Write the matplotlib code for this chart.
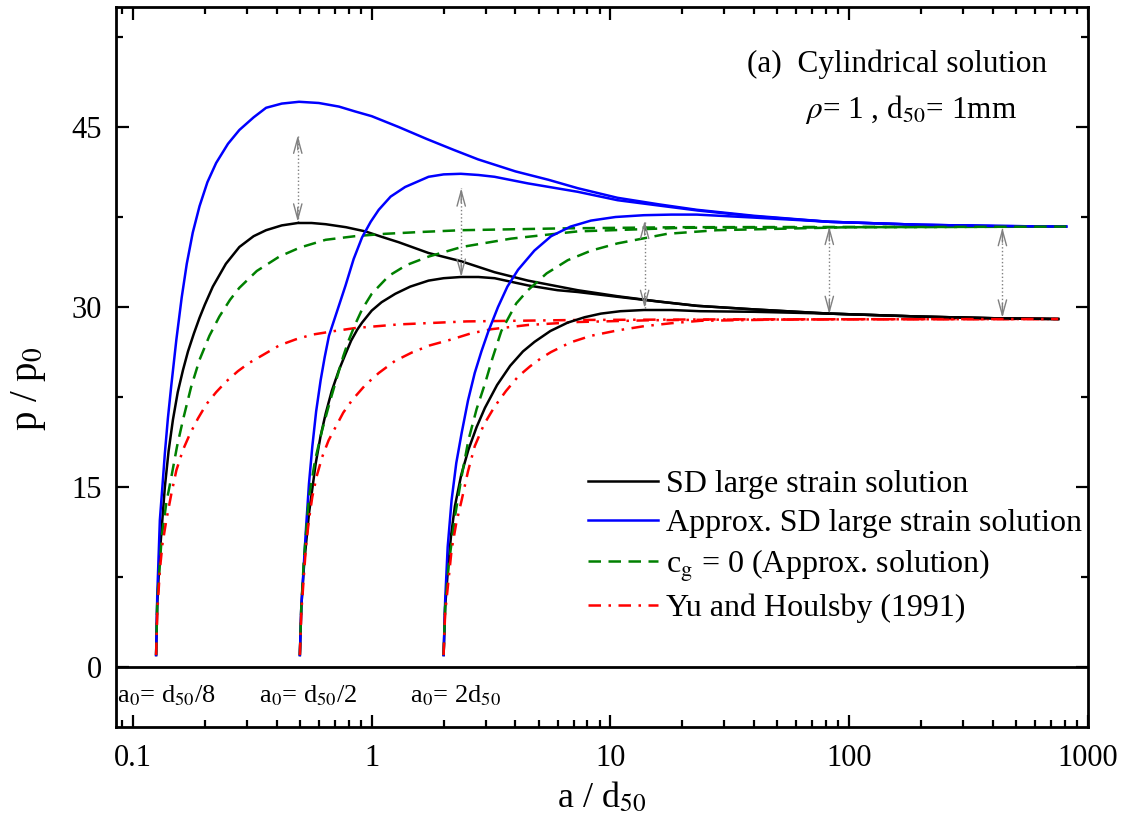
import matplotlib
matplotlib.use('Agg')
import matplotlib.pyplot as plt
from matplotlib.ticker import MultipleLocator, LogLocator, NullFormatter, FixedLocator, FixedFormatter

# a0 = d50/8
sd1_x = [0.125, 0.1264, 0.1296, 0.133, 0.136, 0.141, 0.147, 0.154, 0.162, 0.17, 0.18, 0.19, 0.2, 0.216,
         0.245, 0.279, 0.32, 0.361, 0.42, 0.49, 0.56, 0.641, 0.78, 0.94, 1.1, 1.296, 1.73, 2.38, 3.27,
         4.51, 7.29, 10.7, 16, 23, 40, 82.5, 200, 410, 750]
sd1_y = [1.0, 5.3, 9.5, 12.5, 15.0, 18.0, 20.6, 22.9, 24.75, 26.3, 27.8, 29.1, 30.2, 31.7,
         33.6, 35.0, 35.9, 36.4, 36.8, 37.0, 37.0, 36.9, 36.65, 36.3, 35.85, 35.4, 34.5, 33.8, 32.9,
         32.2, 31.4, 30.9, 30.45, 30.1, 29.8, 29.45, 29.2, 29.06, 29.0]
approx1_x = [0.125, 0.1264, 0.1296, 0.133, 0.136, 0.14, 0.1446, 0.152, 0.16, 0.168, 0.178, 0.19, 0.205,
             0.223, 0.25, 0.279, 0.32, 0.361, 0.42, 0.496, 0.6, 0.729, 0.85, 1.0, 1.296, 1.7, 2.2, 2.79,
             4.0, 5.5, 7.29, 10.7, 16, 23, 40, 82.5, 200, 410, 810]
approx1_y = [1.0, 6.0, 12.25, 15.2, 17.8, 20.7, 23.4, 27.3, 30.8, 33.6, 36.2, 38.4, 40.4,
             42.0, 43.6, 44.75, 45.8, 46.6, 46.95, 47.1, 47.0, 46.7, 46.3, 45.9, 45.0, 44.0, 43.1, 42.3,
             41.3, 40.6, 39.9, 39.1, 38.55, 38.1, 37.6, 37.1, 36.85, 36.75, 36.7]
cg1_x = [0.125, 0.1264, 0.132, 0.138, 0.145, 0.153, 0.162, 0.175, 0.19, 0.209, 0.23, 0.255, 0.279, 0.33,
         0.41, 0.5, 0.641, 0.85, 1.14, 1.6, 2.38, 6.2, 20, 810]
cg1_y = [1.0, 5.5, 10.9, 13.7, 15.9, 18.4, 20.6, 23.3, 25.6, 27.6, 29.2, 30.6, 31.6, 33.0,
         34.2, 34.95, 35.6, 35.9, 36.1, 36.25, 36.4, 36.55, 36.65, 36.7]
yh1_x = [0.125, 0.1264, 0.1296, 0.133, 0.138, 0.145, 0.152, 0.162, 0.173, 0.187, 0.203, 0.223, 0.246,
         0.275, 0.307, 0.35, 0.41, 0.48, 0.564, 0.7, 0.855, 1.296, 2.5, 7.29, 30, 750]
yh1_y = [1.0, 4.5, 8.1, 10.3, 12.25, 14.5, 16.4, 18.1, 19.4, 20.7, 21.9, 22.9, 23.8,
         24.65, 25.35, 26.0, 26.8, 27.3, 27.7, 28.0, 28.25, 28.55, 28.8, 28.92, 28.97, 29.0]

# a0 = d50/2
sd2_x = [0.5, 0.507, 0.521, 0.546, 0.583, 0.61, 0.641, 0.68, 0.729, 0.777, 0.82, 0.869, 0.911, 1.0, 1.1,
         1.255, 1.45, 1.73, 2.0, 2.36, 2.8, 3.27, 4.51, 6.0, 7.29, 10.7, 16, 23, 40, 82.5, 200, 410, 750]
sd2_y = [1.0, 5.0, 8.6, 12.8, 17.0, 19.2, 21.1, 23.0, 24.75, 26.1, 27.2, 28.1, 28.7, 29.7, 30.4,
         31.1, 31.7, 32.2, 32.4, 32.5, 32.5, 32.4, 31.8, 31.4, 31.25, 30.85, 30.45, 30.1, 29.8, 29.45,
         29.2, 29.06, 29.0]
approx2_x = [0.5, 0.507, 0.53, 0.546, 0.564, 0.585, 0.611, 0.635, 0.662, 0.72, 0.777, 0.84, 0.911, 0.99,
             1.07, 1.2, 1.38, 1.73, 2.0, 2.36, 2.8, 3.27, 4.51, 7.29, 10.7, 16, 23, 40, 82.5, 200, 410, 810]
approx2_y = [1.0, 5.0, 11.4, 15.3, 18.4, 21.3, 23.9, 25.8, 27.6, 29.8, 31.8, 34.0, 35.8, 37.1,
             38.1, 39.2, 40.0, 40.85, 41.05, 41.1, 41.0, 40.85, 40.3, 39.6, 38.9, 38.45, 38.05, 37.55,
             37.1, 36.85, 36.75, 36.7]
cg2_x = [0.5, 0.507, 0.52, 0.546, 0.58, 0.62, 0.67, 0.717, 0.76, 0.8, 0.85, 0.911, 1.0, 1.18, 1.4, 1.73,
         2.38, 3.84, 7.29, 20, 810]
cg2_y = [1.0, 5.0, 9.0, 14.2, 17.3, 19.75, 22.2, 24.2, 25.9, 27.2, 28.5, 29.8, 31.1, 32.6, 33.5, 34.2,
         35.0, 35.7, 36.3, 36.6, 36.7]
yh2_x = [0.5, 0.507, 0.53, 0.546, 0.564, 0.59, 0.62, 0.66, 0.706, 0.76, 0.828, 0.94, 1.07, 1.25, 1.47,
         1.75, 2.16, 2.6, 3.17, 4.5, 7.29, 15, 30, 750]
yh2_y = [1.0, 4.5, 10.0, 12.3, 14.2, 16.0, 17.5, 18.9, 20.0, 21.2, 22.25, 23.5, 24.5, 25.5, 26.2,
         26.8, 27.3, 27.8, 28.15, 28.5, 28.75, 28.9, 28.95, 29.0]

# a0 = 2d50
sd3_x = [2.0, 2.03, 2.09, 2.15, 2.23, 2.37, 2.54, 2.75, 2.98, 3.35, 3.8, 4.3, 4.81, 5.6, 6.62, 7.8, 9.12,
         11, 13.8, 18, 23.8, 40, 82.5, 200, 410, 750]
sd3_y = [1.0, 5.0, 8.4, 11.0, 13.4, 16.0, 18.1, 20.0, 21.6, 23.5, 25.1, 26.3, 27.1, 28.0, 28.7, 29.15, 29.45,
         29.65, 29.75, 29.75, 29.65, 29.6, 29.45, 29.2, 29.06, 29.0]
approx3_x = [2.0, 2.03, 2.08, 2.16, 2.26, 2.38, 2.53, 2.7, 2.88, 3.07, 3.38, 3.7, 4.1, 4.8, 5.64, 6.8,
             8.28, 10.5, 13.8, 18, 23, 40, 82.5, 200, 410, 810]
approx3_y = [1.0, 5.5, 10.0, 13.9, 17.0, 19.5, 22.2, 24.5, 26.3, 27.9, 30.0, 31.7, 33.1, 34.7, 35.9, 36.7,
             37.2, 37.5, 37.65, 37.7, 37.7, 37.45, 37.1, 36.85, 36.75, 36.7]
cg3_x = [2.0, 2.03, 2.1, 2.23, 2.38, 2.54, 2.75, 2.98, 3.2, 3.49, 4.03, 4.51, 5.4, 6.62, 8.3, 10.7, 17.3,
         27.9, 100, 810]
cg3_y = [1.0, 5.0, 8.5, 12.5, 15.9, 18.9, 21.5, 23.6, 25.7, 28.0, 30.3, 31.4, 32.8, 33.9, 34.7, 35.3, 36.1,
         36.4, 36.65, 36.7]
yh3_x = [2.0, 2.03, 2.16, 2.26, 2.38, 2.53, 2.7, 2.95, 3.27, 3.65, 4.1, 4.6, 5.13, 5.64, 6.8, 8.28, 10.7,
         13.8, 18, 23.8, 50, 100, 750]
yh3_y = [1.0, 4.5, 9.75, 12.0, 13.9, 16.3, 18.4, 20.2, 21.7, 23.0, 24.2, 25.05, 25.75, 26.25, 27.05, 27.6,
         28.05, 28.4, 28.65, 28.85, 28.95, 28.98, 29.0]

# gap arrows between the two solutions
arrow_x = [0.49, 2.37, 13.9, 82.5, 438]
arrow_top = [44.3, 39.9, 37.2, 36.7, 36.6]
arrow_bottom = [37.1, 32.5, 29.9, 29.4, 29.1]

a0_labels = [r'a$_0$= d$_{50}$/8', r'a$_0$= d$_{50}$/2', r'a$_0$= 2d$_{50}$']
a0_label_x = [0.0858, 0.338, 1.44]

legend_labels = ['SD large strain solution', 'Approx. SD large strain solution',
                 r'c$_\mathrm{g}$ = 0 (Approx. solution)', 'Yu and Houlsby (1991)']

plt.rcParams['font.family'] = ['Liberation Serif', 'DejaVu Serif']
plt.rcParams['mathtext.fontset'] = 'stix'

fig = plt.figure(figsize=(11.35, 8.31), dpi=100)
ax = fig.add_axes([0.1022, 0.1251, 0.8564, 0.8665])

lw = 1.8
dash = (0, (5, 3))
dashdot = (0, (5, 3, 1, 3))
sets = [(sd1_x, sd1_y, approx1_x, approx1_y, cg1_x, cg1_y, yh1_x, yh1_y),
        (sd2_x, sd2_y, approx2_x, approx2_y, cg2_x, cg2_y, yh2_x, yh2_y),
        (sd3_x, sd3_y, approx3_x, approx3_y, cg3_x, cg3_y, yh3_x, yh3_y)]
for i, (sx, sy, bx, by, gx, gy, rx, ry) in enumerate(sets):
    lab = legend_labels if i == 0 else [None] * 4
    ax.plot(sx, sy, color='black', lw=lw, label=lab[0], zorder=3)
    ax.plot(bx, by, color='blue', lw=lw, label=lab[1], zorder=3)
    ax.plot(gx, gy, color='green', lw=lw, ls=dash, label=lab[2], zorder=3)
    ax.plot(rx, ry, color='red', lw=lw, ls=dashdot, label=lab[3], zorder=3)

for x, top, bot in zip(arrow_x, arrow_top, arrow_bottom):
    ax.plot([x, x], [bot, top], color='gray', lw=1, ls=':', zorder=2)
    for tip, tail in ((top, top - 1.2), (bot, bot + 1.2)):
        ax.annotate('', xy=(x, tip), xytext=(x, tail),
                    arrowprops=dict(arrowstyle='->,head_length=1.1,head_width=0.3', color='gray',
                                    lw=1, shrinkA=0, shrinkB=0))

ax.axhline(0, color='black', lw=2)

for x, txt in zip(a0_label_x, a0_labels):
    ax.text(x, -2.4, txt, ha='left', va='center', fontsize=19)

ax.text(0.958, 0.9097, '(a)  Cylindrical solution', transform=ax.transAxes, ha='right', va='baseline',
        fontsize=22.5)
ax.text(0.927, 0.8458, r'$\rho$= 1 , d$_{50}$= 1mm', transform=ax.transAxes, ha='right', va='baseline',
        fontsize=22.5)

ax.set_xscale('log')
ax.set_xlim(0.0849, 1000)
ax.set_ylim(-5, 55)
ax.xaxis.set_major_locator(FixedLocator([0.1, 1, 10, 100, 1000]))
ax.xaxis.set_major_formatter(FixedFormatter(['0.1', '1', '10', '100', '1000']))
ax.xaxis.set_minor_locator(LogLocator(base=10, subs=range(2, 10), numticks=20))
ax.xaxis.set_minor_formatter(NullFormatter())
ax.yaxis.set_major_locator(FixedLocator([0, 15, 30, 45]))
ax.yaxis.set_minor_locator(MultipleLocator(7.5))

ax.tick_params(which='both', direction='in', top=True, right=True, width=1.6, labelsize=22)
ax.tick_params(which='major', length=9)
ax.tick_params(which='minor', length=5)
ax.tick_params(axis='x', pad=12)
ax.tick_params(axis='y', pad=10)
for s in ax.spines.values():
    s.set_linewidth(2)

ax.set_xlabel(r'a / d$_{50}$', fontsize=26, labelpad=6)
ax.set_ylabel(r'p / p$_0$', fontsize=28)
ax.yaxis.set_label_coords(-0.07, 0.47)

ax.legend(loc='upper left', bbox_to_anchor=(0.4856, 0.3575), frameon=False, fontsize=23,
          handlelength=2.2, handletextpad=0.25, labelspacing=0.3, borderpad=0, borderaxespad=0)

fig.savefig('out.png', dpi=100)
